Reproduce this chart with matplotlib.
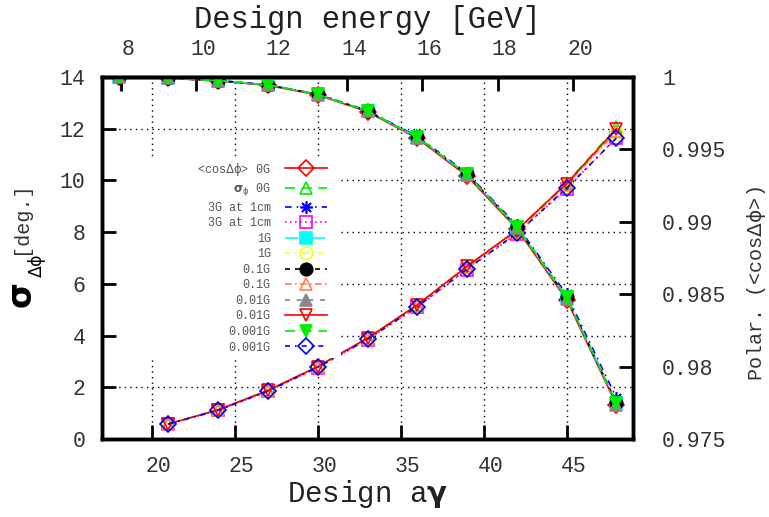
import matplotlib
matplotlib.use("Agg")
import matplotlib.pyplot as plt
from matplotlib.patches import Rectangle
from matplotlib.transforms import ScaledTranslation

# ---- data -------------------------------------------------------------
agamma_pol = [18, 21, 24, 27, 30, 33, 36, 39, 42, 45, 48]
agamma_sig = [21, 24, 27, 30, 33, 36, 39, 42, 45, 48]

pol_0G     = [1.00000, 0.99991, 0.99973, 0.99942, 0.99876, 0.99760, 0.99576, 0.99316, 0.98952, 0.98462, 0.97736]
pol_3G     = [1.00000, 0.99992, 0.99976, 0.99946, 0.99882, 0.99768, 0.99590, 0.99336, 0.98976, 0.98498, 0.97785]
pol_1G     = [1.00000, 0.99992, 0.99975, 0.99945, 0.99880, 0.99765, 0.99584, 0.99328, 0.98966, 0.98479, 0.97751]
pol_01G    = [1.00000, 0.99992, 0.99975, 0.99945, 0.99880, 0.99765, 0.99584, 0.99328, 0.98966, 0.98478, 0.97750]
pol_001G   = [1.00000, 0.99991, 0.99974, 0.99943, 0.99878, 0.99762, 0.99580, 0.99322, 0.98958, 0.98468, 0.97732]
pol_0001G  = [1.00000, 0.99992, 0.99975, 0.99945, 0.99880, 0.99765, 0.99584, 0.99328, 0.98966, 0.98479, 0.97751]

sig_0G     = [0.58, 1.13, 1.88, 2.80, 3.90, 5.19, 6.68, 8.08, 9.90, 12.05]
sig_3G     = [0.58, 1.11, 1.84, 2.76, 3.84, 5.10, 6.55, 7.93, 9.68, 11.66]
sig_1G     = [0.58, 1.12, 1.86, 2.78, 3.87, 5.14, 6.62, 7.99, 9.80, 11.85]
sig_01G    = [0.58, 1.12, 1.86, 2.79, 3.88, 5.16, 6.64, 8.02, 9.83, 11.90]
sig_001G   = [0.58, 1.13, 1.88, 2.80, 3.90, 5.19, 6.68, 8.08, 9.88, 12.00]
sig_0001G  = [0.58, 1.11, 1.85, 2.77, 3.85, 5.12, 6.58, 7.95, 9.70, 11.64]

energy_ticks = [8, 10, 12, 14, 16, 18, 20]
agamma_ticks = [20, 25, 30, 35, 40, 45]
sigma_ticks = [0, 2, 4, 6, 8, 10, 12, 14]
pol_ticks = [0.975, 0.98, 0.985, 0.99, 0.995, 1.0]
pol_tick_labels = ["0.975", "0.98", "0.985", "0.99", "0.995", "1"]

GEV_PER_AGAMMA = 0.440649

# ---- styling ------------------------------------------------------------
mono = "Liberation Mono"
plt.rcParams["font.family"] = [mono, "DejaVu Sans"]
plt.rcParams["mathtext.fontset"] = "dejavusans"
tick_color = "#333333"

fig = plt.figure(figsize=(7.69, 5.17), dpi=100)
ax = fig.add_axes([102 / 769, 78 / 517, 531 / 769, 362 / 517])
ax2 = ax.twinx()

ax.set_xlim(17, 49)
ax.set_ylim(0, 14)
ax2.set_ylim(0.975, 1.0)

for sp in list(ax.spines.values()) + list(ax2.spines.values()):
    sp.set_linewidth(2.5)

ax.set_xticks(agamma_ticks)
ax.set_xticklabels([str(v) for v in agamma_ticks])
ax.set_yticks(sigma_ticks)
ax.set_yticklabels([str(v) for v in sigma_ticks])
ax2.set_yticks(pol_ticks)
ax2.set_yticklabels(pol_tick_labels)

ax.tick_params(axis="both", which="major", direction="in", length=10, width=2,
               labelsize=15.5, labelcolor=tick_color, top=False, right=False)
ax.tick_params(axis="x", pad=12)
ax.tick_params(axis="y", pad=12)
ax2.tick_params(axis="y", direction="in", length=10, width=2, labelsize=15.5,
                labelcolor=tick_color, pad=21)

ax.grid(True, color="black", linestyle=(0, (1, 3)), linewidth=1.0)

secax = ax.secondary_xaxis("top", functions=(lambda a: a * GEV_PER_AGAMMA,
                                             lambda e: e / GEV_PER_AGAMMA))
secax.set_xticks(energy_ticks)
secax.set_xticklabels([str(v) for v in energy_ticks])
secax.tick_params(direction="in", length=10, width=2, labelsize=15.5,
                  labelcolor=tick_color, pad=12)
secax.spines["top"].set_linewidth(2.5)
secax.set_xlabel("Design energy [GeV]", fontsize=22, color="#222222", labelpad=8)

ax.set_xlabel(r"Design a$\mathbf{\gamma}$", fontsize=21, color="#222222", labelpad=1)

# left axis label: big bold sigma, its subscript, then the unit
fig.text(23 / 769, 1 - 296 / 517, r"$\mathbf{\sigma}$", fontsize=24,
         rotation=90, ha="center", va="center", color="black")
fig.text(37 / 769, 1 - 266 / 517, r"$\mathrm{\Delta\phi}$", fontsize=12.5,
         rotation=90, ha="center", va="center", color="black")
fig.text(20 / 769, 1 - 218 / 517, "[deg.]", fontsize=14.5, rotation=90,
         ha="center", va="center", color="#333333")
fig.text(757 / 769, 1 - 284 / 517, r"Polar. (<cos$\mathrm{\Delta\phi}$>)", fontsize=14.5,
         rotation=90, ha="center", va="center", color="#333333")

# ---- curves --------------------------------------------------------------
green = "#00ee00"
series = [
    ("pol", pol_0G, r"<cos$\mathrm{\Delta\phi}$> 0G", "#ff0000", "-", "D", False),
    ("sig", sig_0G, r"$\mathbf{\sigma}_{\mathrm{\phi}}$ 0G", green, (0, (6, 4)), "^", False),
    ("pol", pol_3G, "3G at 1cm", "#0000ff", (0, (4, 3, 1, 3)), (8, 2, 0), False),
    ("sig", sig_3G, "3G at 1cm", "#ff00ff", (0, (1, 2)), "s", False),
    ("pol", pol_1G, "1G", "#00ffff", (0, (8, 3, 2, 3)), "s", True),
    ("sig", sig_1G, "1G", "#ffff00", (0, (3, 3, 1, 3)), "o", False),
    ("pol", pol_01G, "0.1G", "#000000", (0, (3, 3)), "o", True),
    ("sig", sig_01G, "0.1G", "#ff7f50", (0, (4, 2, 1, 2)), "^", False),
    ("pol", pol_001G, "0.01G", "#888888", (0, (3, 4)), "^", True),
    ("sig", sig_001G, "0.01G", "#ff0000", "-", "v", False),
    ("pol", pol_0001G, "0.001G", green, (0, (6, 4)), "v", True),
    ("sig", sig_0001G, "0.001G", "#0000ff", (0, (3, 3, 1, 3)), "D", False),
]

handles = []
for kind, vals, label, color, ls, marker, filled in series:
    target = ax2 if kind == "pol" else ax
    xs = agamma_pol if kind == "pol" else agamma_sig
    ms = 8 if marker == "D" else 9
    (ln,) = target.plot(xs, vals, color=color, linestyle=ls, linewidth=1.2,
                        marker=marker, markersize=ms, markeredgewidth=1.2,
                        markerfacecolor=color if filled else "none",
                        markeredgecolor=color, label=label)
    handles.append(ln)

# opaque key background
ax2.add_patch(Rectangle((0.03, 0.224), 0.42, 0.548, transform=ax2.transAxes,
                        facecolor="white", edgecolor="none", zorder=2.5))
leg = ax2.legend(handles=handles, loc="upper right", bbox_to_anchor=(0.44, 0.792),
                 frameon=False, markerfirst=False, fontsize=8.5,
                 labelcolor="#555555", handlelength=3.6, handletextpad=1.2,
                 labelspacing=0.3, borderpad=0.2)
leg.set_zorder(5)

# x tick labels sit slightly right of their ticks
fig.canvas.draw()
shift = ScaledTranslation(7 / 100, 0, fig.dpi_scale_trans)
for lab in ax.get_xticklabels() + secax.get_xticklabels():
    lab.set_transform(lab.get_transform() + shift)

fig.savefig("out.png", dpi=100)
